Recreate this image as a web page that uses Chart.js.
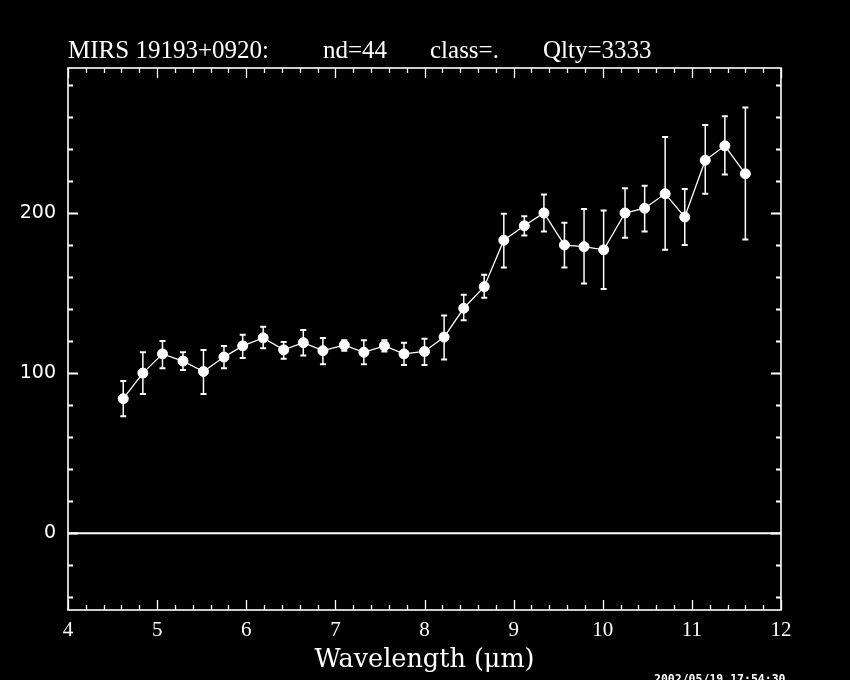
<!DOCTYPE html>
<html>
<head>
<meta charset="utf-8">
<script src="https://cdn.jsdelivr.net/npm/chart.js@4/dist/chart.umd.min.js"></script>
<style>
  html, body { margin: 0; padding: 0; background: #000; }
  #wrap { width: 850px; height: 680px; }
</style>
</head>
<body>
<div id="wrap"><canvas id="c" width="850" height="680"></canvas></div>
<script>
// ---- data ----
const wavelengths = [4.62, 4.84, 5.06, 5.29, 5.52, 5.75, 5.96, 6.19, 6.42, 6.64, 6.86, 7.10, 7.32, 7.55, 7.77, 8.00, 8.22, 8.44, 8.67, 8.89, 9.12, 9.34, 9.57, 9.79, 10.01, 10.25, 10.47, 10.70, 10.92, 11.15, 11.37, 11.60];
const flux      = [84, 100, 112, 107.5, 101, 110, 117, 122, 114.5, 119, 114, 117.5, 113, 117, 112, 113.5, 122.5, 140.5, 154, 183, 192, 200, 180, 179, 177, 200, 203, 212, 197.5, 233, 242, 224.5];
const errHigh   = [95, 113, 120, 113, 114.5, 117, 124, 129, 119.5, 127, 122, 120.5, 120.5, 120.5, 119, 121.5, 136, 149, 161.5, 199.5, 198, 211.5, 194, 202.5, 201.5, 215.5, 217, 247.5, 215, 255, 260.5, 266];
const errLow    = [73, 87, 103, 102, 87, 103, 109.5, 115.5, 109, 111, 105.5, 114, 105.5, 113.5, 105, 105, 108.5, 133, 147, 166, 186, 188.5, 166, 156, 152.5, 184.5, 188.5, 177, 180, 212, 224, 183.5];
const xTickValues = [4, 5, 6, 7, 8, 9, 10, 11, 12];
const yTickValues = [0, 100, 200];
const titleParts = ["MIRS 19193+0920:", "nd=44", "class=.", "Qlty=3333"];
const xAxisTitle = "Wavelength (\u03bcm)";
const timestamp = "2002/05/19 17:54:30";

const X_MIN = 4, X_MAX = 12, Y_MIN = -48, Y_MAX = 290.6;

const framePlugin = {
  id: 'frame',
  beforeDraw(chart) {
    const ctx = chart.ctx;
    ctx.save();
    ctx.fillStyle = '#000';
    ctx.fillRect(0, 0, chart.width, chart.height);
    ctx.restore();
  },
  beforeDatasetsDraw(chart) {
    const ctx = chart.ctx;
    const xs = chart.scales.x, ys = chart.scales.y;
    const a = chart.chartArea;
    ctx.save();
    ctx.strokeStyle = '#fff';
    // frame
    ctx.lineWidth = 1.6;
    ctx.strokeRect(a.left, a.top, a.right - a.left, a.bottom - a.top);
    // x minor/major ticks (every 0.2)
    ctx.lineWidth = 1.3;
    for (let k = 0; k <= (X_MAX - X_MIN) * 5; k++) {
      const v = X_MIN + k * 0.2;
      const px = Math.round(xs.getPixelForValue(v)) + 0.5;
      const len = (k % 5 === 0) ? 10 : 5;
      ctx.beginPath();
      ctx.moveTo(px, a.bottom); ctx.lineTo(px, a.bottom - len);
      ctx.moveTo(px, a.top); ctx.lineTo(px, a.top + len);
      ctx.stroke();
    }
    // y ticks every 20
    ctx.lineWidth = 2;
    for (let v = -40; v <= 280; v += 20) {
      const py = Math.round(ys.getPixelForValue(v)) + 0.5;
      const len = (v % 100 === 0) ? 10 : 5;
      ctx.beginPath();
      ctx.moveTo(a.left, py); ctx.lineTo(a.left + len, py);
      ctx.moveTo(a.right, py); ctx.lineTo(a.right - len, py);
      ctx.stroke();
    }
    // zero line
    ctx.lineWidth = 2;
    const y0 = ys.getPixelForValue(0);
    ctx.beginPath();
    ctx.moveTo(a.left, y0); ctx.lineTo(a.right, y0);
    ctx.stroke();
    // error bars
    for (let i = 0; i < wavelengths.length; i++) {
      const px = xs.getPixelForValue(wavelengths[i]);
      const yh = ys.getPixelForValue(errHigh[i]);
      const yl = ys.getPixelForValue(errLow[i]);
      ctx.lineWidth = 1.5;
      ctx.beginPath();
      ctx.moveTo(px, yh); ctx.lineTo(px, yl);
      ctx.stroke();
      ctx.lineWidth = 2;
      ctx.beginPath();
      ctx.moveTo(px - 3, yh); ctx.lineTo(px + 3, yh);
      ctx.moveTo(px - 3, yl); ctx.lineTo(px + 3, yl);
      ctx.stroke();
    }
    ctx.restore();
  },
  afterDraw(chart) {
    const ctx = chart.ctx;
    ctx.save();
    ctx.fillStyle = '#fff';
    ctx.textBaseline = 'alphabetic';
    ctx.textAlign = 'left';
    ctx.font = '25px "Liberation Serif"';
    const xsPos = [68, 323, 430, 543];
    titleParts.forEach((t, i) => ctx.fillText(t, xsPos[i], 58));
    ctx.font = 'bold 11.5px "DejaVu Sans Mono"';
    ctx.fillText(timestamp, 654, 683);
    ctx.restore();
  }
};

new Chart(document.getElementById('c'), {
  type: 'line',
  data: {
    datasets: [{
      data: wavelengths.map((w, i) => ({ x: w, y: flux[i] })),
      borderColor: '#fff',
      borderWidth: 1.3,
      pointRadius: 5,
      pointBackgroundColor: '#fff',
      pointBorderColor: '#fff',
      pointBorderWidth: 1,
      tension: 0,
      fill: false
    }]
  },
  options: {
    responsive: false,
    animation: false,
    devicePixelRatio: 1,
    layout: { padding: { left: 0, right: 69, top: 68, bottom: 0 } },
    plugins: { legend: { display: false }, tooltip: { enabled: false }, title: { display: false } },
    scales: {
      x: {
        type: 'linear', min: X_MIN, max: X_MAX,
        grid: { display: false, drawTicks: false, tickLength: 0 },
        border: { display: false },
        afterBuildTicks(s) { s.ticks = xTickValues.map(v => ({ value: v })); },
        afterFit(s) { s.height = 70; },
        ticks: { color: '#fff', padding: 8, font: { family: 'Liberation Serif', size: 21 }, maxRotation: 0, autoSkip: false },
        title: { display: true, text: xAxisTitle, color: '#fff', font: { family: 'DejaVu Serif', size: 25.5 }, padding: { top: 0, bottom: 4 } }
      },
      y: {
        type: 'linear', min: Y_MIN, max: Y_MAX,
        grid: { display: false, drawTicks: false, tickLength: 0 },
        border: { display: false },
        afterBuildTicks(s) { s.ticks = yTickValues.map(v => ({ value: v })); },
        afterFit(s) { s.width = 68; },
        ticks: { color: '#fff', padding: 12, font: { family: 'DejaVu Sans', size: 19 }, autoSkip: false }
      }
    }
  },
  plugins: [framePlugin]
});
</script>
</body>
</html>
